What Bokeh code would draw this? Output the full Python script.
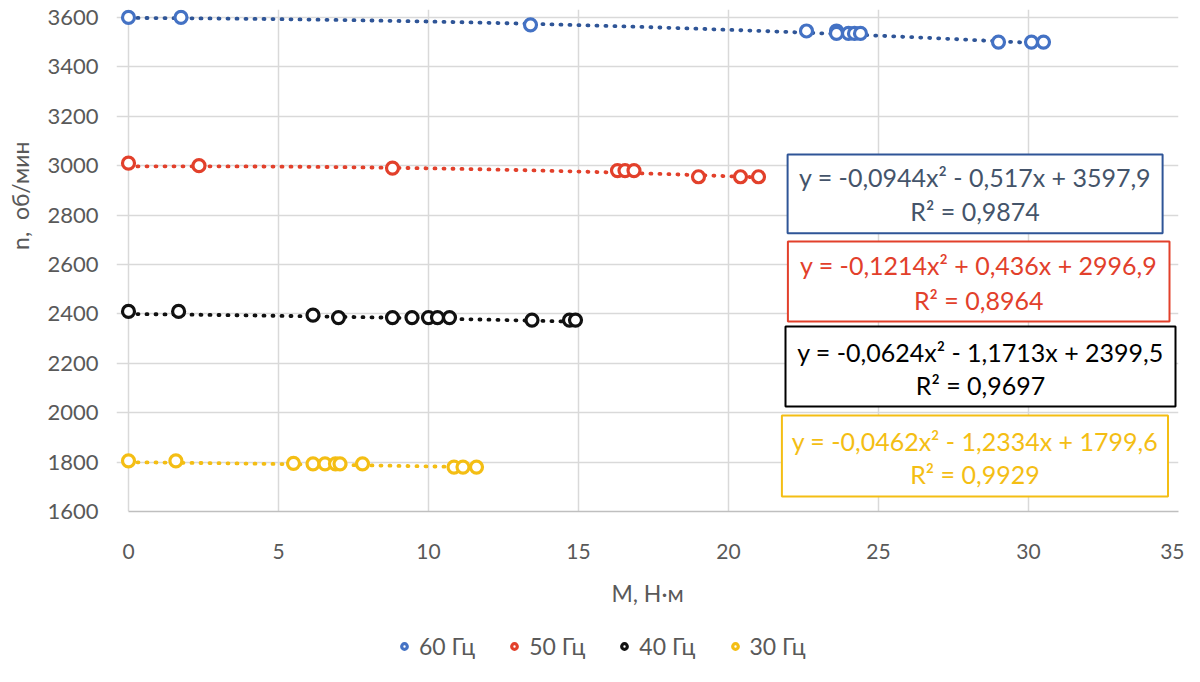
import numpy as np
from bokeh.plotting import figure
from bokeh.layouts import column
from bokeh.models import Range1d, FixedTicker, Legend, LegendItem, BoxAnnotation, Label
from bokeh.embed import file_html
from bokeh.resources import INLINE

# ---- data ----
m_60 = [0, 1.75, 13.4, 22.6, 23.6, 23.6, 24.0, 24.2, 24.4, 29.0, 30.1, 30.5]
n_60 = [3600, 3600, 3570, 3545, 3545, 3535, 3535, 3535, 3535, 3500, 3500, 3500]
m_50 = [0, 2.35, 8.8, 16.3, 16.55, 16.85, 19.0, 20.4, 21.0]
n_50 = [3010, 3000, 2990, 2980, 2980, 2980, 2955, 2955, 2955]
m_40 = [0, 1.67, 6.15, 7.0, 8.8, 9.45, 10.0, 10.3, 10.7, 13.45, 14.7, 14.9]
n_40 = [2410, 2410, 2395, 2385, 2385, 2385, 2385, 2385, 2385, 2375, 2375, 2375]
m_30 = [0, 1.58, 5.5, 6.15, 6.55, 6.9, 7.05, 7.8, 10.85, 11.15, 11.6]
n_30 = [1805, 1805, 1795, 1793, 1793, 1793, 1793, 1793, 1780, 1780, 1780]

series_names = ["60 Гц", "50 Гц", "40 Гц", "30 Гц"]
coef_60 = [-0.0944, -0.517, 3597.9]
coef_50 = [-0.1214, 0.436, 2996.9]
coef_40 = [-0.0624, -1.1713, 2399.5]
coef_30 = [-0.0462, -1.2334, 1799.6]
eq_60 = ["y = -0,0944x² - 0,517x + 3597,9", "R² = 0,9874"]
eq_50 = ["y = -0,1214x² + 0,436x + 2996,9", "R² = 0,8964"]
eq_40 = ["y = -0,0624x² - 1,1713x + 2399,5", "R² = 0,9697"]
eq_30 = ["y = -0,0462x² - 1,2334x + 1799,6", "R² = 0,9929"]

x_ticks = [0, 5, 10, 15, 20, 25, 30, 35]
y_ticks = [1600, 1800, 2000, 2200, 2400, 2600, 2800, 3000, 3200, 3400, 3600]
x_title = "M, Н·м"
y_title = "n,\u00a0\u00a0об/мин"

# ---- styling / layout ----
FONT = "Lato"
marker_colors = ["#4472C4", "#E2402B", "#111111", "#F4BE14"]
trend_colors = ["#2F5597", "#E2402B", "#111111", "#F4BE14"]
eq_text_colors = ["#44546A", "#E2402B", "#000000", "#F4BE14"]
eq_box_colors = ["#2F5597", "#E2402B", "#000000", "#F4BE14"]
# box extents (left, right, bottom, top) and two text line y positions, in data units
eq_boxes = [(21.97, 34.47, 2726, 3045), (21.98, 34.7, 2369, 2693),
            (21.9, 34.9, 2025, 2349), (21.78, 34.65, 1661, 1989)]
eq_lines_y = [(2952, 2815), (2596, 2458), (2245, 2114), (1887, 1750)]
YTITLE_SHIFT = "\u00a0" * 22   # moves the vertical title upward, as in the original

p = figure(width=1184, height=628,
           min_border_left=116, min_border_right=6, min_border_top=9, min_border_bottom=117,
           x_range=Range1d(-0.4, 35), y_range=Range1d(1600, 3632),
           output_backend="svg", toolbar_location=None)
p.outline_line_color = None
p.background_fill_color = "white"
p.border_fill_color = "white"

for ax in (p.xaxis[0], p.yaxis[0]):
    ax.major_tick_line_color = None
    ax.minor_tick_line_color = None
    ax.major_label_text_color = "#595959"
    ax.axis_label_text_color = "#595959"
    ax.major_label_text_font = FONT
    ax.axis_label_text_font = FONT
    ax.axis_label_text_font_style = "normal"

p.xaxis.ticker = FixedTicker(ticks=x_ticks)
p.yaxis.ticker = FixedTicker(ticks=y_ticks)
p.xaxis.bounds = (0, 35)
p.xaxis.axis_line_color = "#BFBFBF"
p.xaxis.axis_line_width = 1.5
p.yaxis.axis_line_color = None
p.xaxis.major_label_text_font_size = "21px"
p.yaxis.major_label_text_font_size = "22px"
p.xaxis.axis_label = x_title
p.yaxis.axis_label = YTITLE_SHIFT + y_title
p.xaxis.axis_label_text_font_size = "23px"
p.yaxis.axis_label_text_font_size = "23px"
p.xaxis.major_label_standoff = 26
p.xaxis.axis_label_standoff = 17
p.yaxis.major_label_standoff = 12
p.yaxis.axis_label_standoff = 10

p.xgrid.ticker = FixedTicker(ticks=x_ticks)
p.ygrid.ticker = FixedTicker(ticks=y_ticks[1:])
p.xgrid.grid_line_color = "#D9D9D9"
p.ygrid.grid_line_color = "#D9D9D9"
p.xgrid.grid_line_width = 1.5
p.ygrid.grid_line_width = 1.5

all_m = [m_60, m_50, m_40, m_30]
all_n = [n_60, n_50, n_40, n_30]
all_coef = [coef_60, coef_50, coef_40, coef_30]
all_eq = [eq_60, eq_50, eq_40, eq_30]

for i in range(4):
    xs = np.linspace(0, max(all_m[i]), 200)
    ys = np.polyval(all_coef[i], xs)
    p.line(xs, ys, line_color=trend_colors[i], line_width=3.8, line_dash="1 8", line_cap="round")
for i in range(4):
    p.scatter(all_m[i], all_n[i], marker="circle", size=12, line_width=3.2,
              line_color=marker_colors[i], fill_color="white")

for i in range(4):
    l, rr, b, t = eq_boxes[i]
    p.add_layout(BoxAnnotation(left=l, right=rr, bottom=b, top=t, fill_color="white", fill_alpha=1.0,
                               line_color=eq_box_colors[i], line_width=2, line_alpha=1.0))
    cx = (l + rr) / 2
    for j in range(2):
        p.add_layout(Label(x=cx, y=eq_lines_y[i][j], text=all_eq[i][j], text_align="center",
                           text_baseline="middle", text_font=FONT, text_font_size="25px",
                           text_color=eq_text_colors[i]))

# legend strip below the chart (same series, drawn through the same scales; out of this strip's y-range)
p2 = figure(width=1184, height=36, x_range=p.x_range, y_range=Range1d(0, 1),
            min_border=0, x_axis_location=None, y_axis_location=None,
            output_backend="svg", toolbar_location=None)
p2.outline_line_color = None
p2.grid.visible = False
items = []
for i in range(4):
    r = p2.scatter(all_m[i], all_n[i], marker="circle", size=12, line_width=3.2,
                   line_color=marker_colors[i], fill_color="white")
    items.append(LegendItem(label=series_names[i], renderers=[r]))
legend = Legend(items=items, orientation="horizontal", location="left",
                label_text_font=FONT, label_text_font_size="23px", label_text_color="#595959",
                glyph_width=14, glyph_height=24, label_standoff=8, spacing=32,
                padding=0, margin=281, border_line_color=None, background_fill_alpha=0)
p2.add_layout(legend, "center")

open("out.html", "w").write(file_html(column(p, p2), INLINE))
